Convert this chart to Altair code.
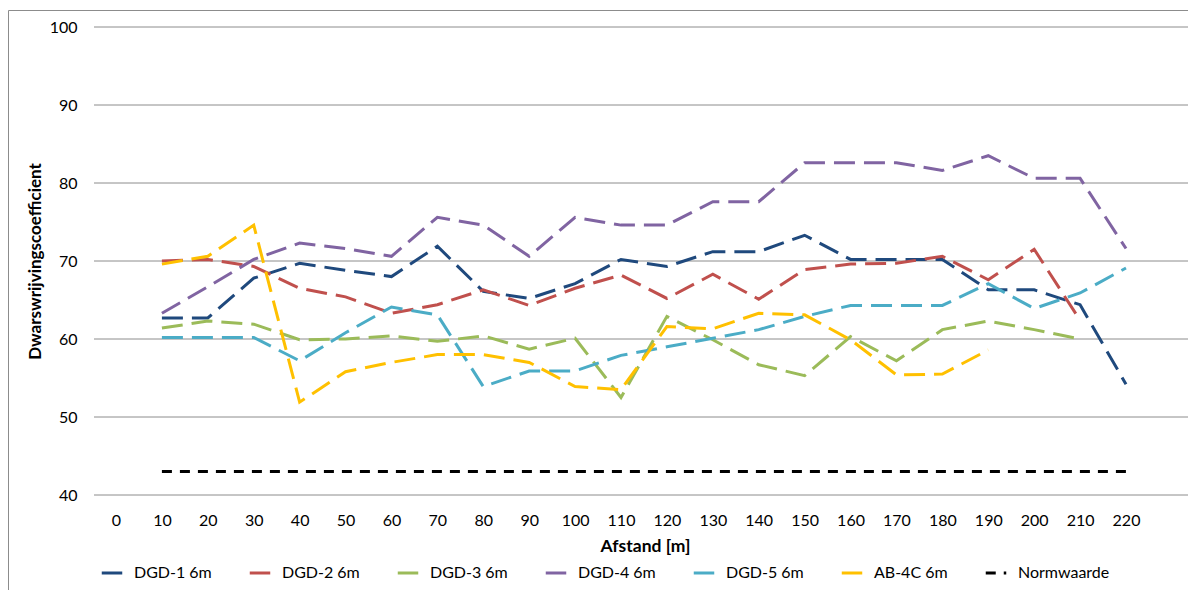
import altair as alt
import pandas as pd

# ---- data ----
axis_labels = [0, 10, 20, 30, 40, 50, 60, 70, 80, 90, 100, 110,
               120, 130, 140, 150, 160, 170, 180, 190, 200, 210, 220]
y_ticks = [40, 50, 60, 70, 80, 90, 100]
afstand = [10, 20, 30, 40, 50, 60, 70, 80, 90, 100, 110,
           120, 130, 140, 150, 160, 170, 180, 190, 200, 210, 220]

dgd1 = [62.7, 62.7, 67.8, 69.7, 68.8, 68.0, 71.9, 66.1, 65.2, 67.1, 70.2,
        69.3, 71.2, 71.2, 73.3, 70.2, 70.2, 70.2, 66.3, 66.3, 64.4, 54.2]
dgd2 = [70.0, 70.2, 69.3, 66.5, 65.4, 63.3, 64.4, 66.3, 64.3, 66.5, 68.2,
        65.2, 68.3, 65.1, 68.9, 69.6, 69.7, 70.6, 67.6, 71.5, 62.4, None]
dgd3 = [61.4, 62.3, 61.9, 59.9, 60.0, 60.4, 59.7, 60.4, 58.7, 60.1, 52.5,
        62.9, 59.9, 56.7, 55.3, 60.3, 57.2, 61.2, 62.3, 61.2, 60.0, None]
dgd4 = [63.3, 66.7, 70.2, 72.3, 71.6, 70.6, 75.6, 74.6, 70.6, 75.6, 74.6,
        74.6, 77.6, 77.6, 82.6, 82.6, 82.6, 81.6, 83.5, 80.6, 80.6, 71.6]
dgd5 = [60.2, 60.2, 60.2, 57.2, 60.8, 64.1, 63.1, 53.9, 55.9, 55.9, 57.9,
        59.0, 60.1, 61.2, 62.9, 64.3, 64.3, 64.3, 67.1, 63.9, 65.9, 69.1]
ab4c = [69.6, 70.6, 74.6, 51.9, 55.8, 57.0, 58.0, 58.0, 57.0, 53.9, 53.5,
        61.6, 61.3, 63.3, 63.1, 59.9, 55.4, 55.5, 58.6, None, None, None]
normwaarde = [43, 43, 43, 43, 43, 43, 43, 43, 43, 43, 43,
              43, 43, 43, 43, 43, 43, 43, 43, 43, 43, 43]

series_names = ["DGD-1 6m", "DGD-2 6m", "DGD-3 6m", "DGD-4 6m",
                "DGD-5 6m", "AB-4C 6m", "Normwaarde"]
series_values = [dgd1, dgd2, dgd3, dgd4, dgd5, ab4c, normwaarde]
colors = ["#1F497D", "#C0504D", "#9BBB59", "#8064A2",
          "#4BACC6", "#FFC000", "#000000"]
dashes = [[21, 9], [21, 9], [21, 9], [21, 9], [21, 9], [21, 9], [10, 8]]

rows = []
for name, vals in zip(series_names, series_values):
    for a, v in zip(afstand, vals):
        if v is not None:
            rows.append({"afstand": a, "waarde": v, "serie": name})
df = pd.DataFrame(rows)
grid_df = pd.DataFrame({"waarde": y_ticks})

W, H = 1094, 468
FONT = "Lato"
GRID = "#8c8c8c"

y_scale = alt.Scale(domain=[40, 100], nice=False, zero=False)
y_axis = alt.Axis(title="Dwarswrijvingscoefficient", values=y_ticks,
                  ticks=False, tickSize=0, domain=False, grid=False,
                  labelPadding=17, titlePadding=5, titleFontSize=17)

gridlines = alt.Chart(grid_df).mark_rule(color=GRID, strokeWidth=1).encode(
    y=alt.Y("waarde:Q", scale=y_scale, axis=y_axis),
    x=alt.value(0), x2=alt.value(W),
)

lines = alt.Chart(df).mark_line(strokeWidth=3).encode(
    x=alt.X("afstand:O",
            scale=alt.Scale(type="point", domain=axis_labels,
                            range=[22, 1032], padding=0),
            axis=alt.Axis(title="Afstand [m]", labelAngle=0, ticks=False,
                          tickSize=0, domain=False, grid=False,
                          labelPadding=17, titlePadding=9,
                          titleFontSize=17.5, titleX=551)),
    y=alt.Y("waarde:Q", scale=y_scale, axis=y_axis),
    color=alt.Color("serie:N",
                    scale=alt.Scale(domain=series_names, range=colors),
                    title=None),
    strokeDash=alt.StrokeDash("serie:N",
                              scale=alt.Scale(domain=series_names, range=dashes),
                              title=None),
)

border_df = pd.DataFrame({"b": [0]})
border = alt.Chart(border_df).mark_rect(
    filled=False, stroke=GRID, strokeWidth=1
).encode(
    x=alt.value(-85.5), x2=alt.value(W + 120),
    y=alt.value(-16.5), y2=alt.value(H + 150),
)

chart = alt.layer(border, gridlines, lines).properties(
    width=W, height=H,
    autosize=alt.AutoSizeParams(type="none"),
    padding={"left": 86, "top": 19, "right": 0, "bottom": 95},
).configure_view(
    stroke=None
).configure_axis(
    labelFont=FONT, labelFontSize=16, labelColor="#000000",
    titleFont=FONT, titleFontWeight="bold", titleColor="#000000",
).configure_legend(
    orient="none", legendX=6, legendY=534, direction="horizontal",
    symbolType="stroke", symbolSize=420, symbolStrokeWidth=3,
    labelFont=FONT, labelFontSize=16, labelColor="#000000",
    labelOffset=10, columnPadding=31, padding=0, labelLimit=300,
)

chart.save("out.html", embed_options={"renderer": "svg", "actions": False})
